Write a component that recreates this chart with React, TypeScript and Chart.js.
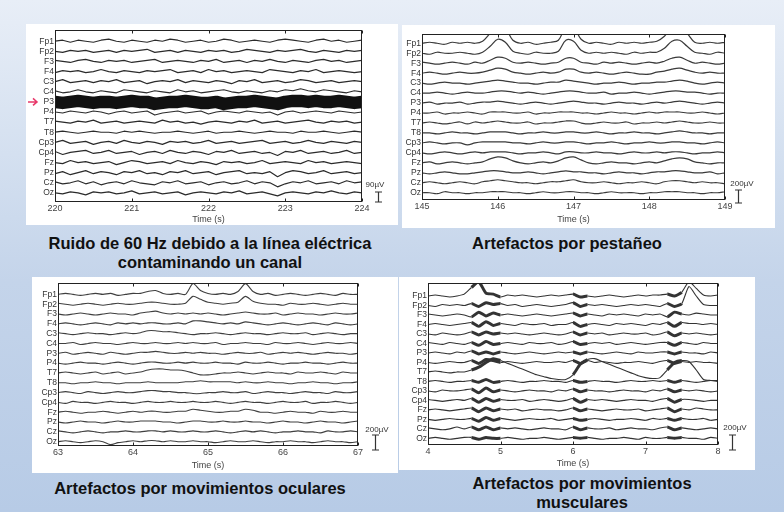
import React, { useEffect, useRef } from "react";
import { Chart, registerables } from "chart.js";
Chart.register(...registerables);

// ---------- data ----------
const CHANNELS = ["Fp1", "Fp2", "F3", "F4", "C3", "C4", "P3", "P4", "T7", "T8", "Cp3", "Cp4", "Fz", "Pz", "Cz", "Oz"];
const SAMPLE_STEP = 0.1; // seconds between samples

const P1_START = 220, P1_END = 224, P1_TICK_STEP = 1;
const P2_START = 145, P2_END = 149, P2_TICK_STEP = 1;
const P3_START = 63, P3_END = 67, P3_TICK_STEP = 1;
const P4_START = 4, P4_END = 8, P4_TICK_STEP = 1;

const P1_SCALE_LABEL = "90µV";
const P2_SCALE_LABEL = "200µV";
const P3_SCALE_LABEL = "200µV";
const P4_SCALE_LABEL = "200µV";

// Panel 1: 60 Hz line noise on P3 (offsets from each channel baseline)
const P1_TRACES = [
  [0,1,-1,1,0,-1,1,2,0,-1,1,0,-1,1,0,2,1,-1,0,1,-1,0,2,1,-1,0,1,0,-1,1,2,1,0,-1,1,2,0,1,-1,0,1], // Fp1
  [0,-1,1,0,1,-1,0,1,-1,1,0,1,2,-1,0,1,-1,1,0,-1,1,0,1,-1,0,2,1,0,-1,1,0,1,2,0,-1,1,0,-1,1,0,1], // Fp2
  [1,0,-1,1,2,0,-1,1,0,1,-1,0,1,2,-1,0,1,0,-1,1,0,2,-1,0,1,-1,1,0,2,0,-1,1,0,-1,1,2,0,1,-1,0,1], // F3
  [-1,1,0,1,-1,0,2,0,-1,1,0,-1,1,0,1,2,-1,0,1,-1,2,0,1,-1,0,1,0,-1,2,1,0,-1,1,0,2,-1,0,1,0,-1,0], // F4
  [0,2,-1,0,1,-1,1,0,2,-1,0,1,-2,0,1,0,2,-1,1,0,-1,1,0,-2,1,0,2,-1,0,1,-1,0,2,1,-1,0,1,-1,0,1,0], // C3
  [1,-1,0,2,0,-1,1,0,-1,2,1,0,-1,1,0,-1,2,0,1,-1,0,1,2,0,-1,1,0,-1,1,0,2,1,3,1,0,2,1,0,-1,1,0], // C4
  [0,-1,0,1,0,-1,0,0,-1,0,1,0,0,-2,-1,0,0,1,0,-1,-1,0,-2,-1,0,0,1,0,-1,-2,0,1,1,0,1,0,0,1,0,-1,0], // P3
  [0,-1,1,0,-1,1,0,-2,0,1,-1,0,1,-3,-1,0,1,-1,0,1,-2,0,1,0,-1,1,0,-1,0,-3,0,1,-1,0,1,0,-1,1,0,-1,0], // P4
  [1,0,-1,1,0,2,-1,0,1,-1,0,1,0,-1,2,0,1,-1,0,-2,0,1,0,-1,1,0,2,-1,0,1,-1,0,1,2,0,-1,1,0,1,-1,0], // T7
  [0,1,0,-1,0,1,0,0,-1,1,0,1,0,-1,0,0,1,0,-1,0,1,-1,0,0,1,0,-1,0,1,0,0,-1,1,0,0,1,0,-1,0,1,0], // T8
  [0,2,-1,0,1,-2,0,1,-1,2,0,-1,1,0,-2,1,0,1,-1,0,2,-1,0,1,-1,0,1,2,-1,0,1,-1,0,2,0,-1,1,0,-1,1,0], // Cp3
  [1,-2,0,1,2,-1,0,2,-1,0,1,-2,0,1,-1,2,0,-1,1,0,-2,1,0,2,-1,0,1,-1,0,-3,1,0,2,-1,0,1,-1,0,2,-1,0], // Cp4
  [0,-1,2,0,1,-1,0,1,-2,0,2,1,-1,0,1,-1,2,0,-1,1,0,-2,1,0,1,-1,0,2,-1,0,1,0,-1,2,0,1,-1,0,1,0,-1], // Fz
  [-1,1,-2,0,2,-1,1,0,-2,1,0,2,-1,0,-2,1,0,2,-1,0,1,-2,0,1,2,-1,0,-1,1,-4,0,2,1,-1,0,2,-1,0,1,-1,0], // Pz
  [1,-1,0,2,-1,1,-2,0,1,-1,2,0,-1,-2,1,0,2,-1,0,1,-2,0,1,-1,0,2,-1,1,0,-4,-1,1,0,2,-1,0,1,-1,2,0,1], // Cz
  [0,-1,1,0,-2,1,0,1,-1,0,2,-1,0,1,-1,0,1,-2,0,1,0,-1,1,0,2,-1,0,1,-1,-3,0,1,0,-1,1,0,2,0,-1,1,0], // Oz
];

// Panel 2: blink artefacts
const P2_TRACES = [
  [0,1,0,-1,1,0,1,0,2,10,18,15,3,0,1,-1,0,1,3,16,16,4,0,1,0,-1,1,0,1,0,1,2,7,16,17,10,1,0,1,0,1], // Fp1
  [0,-1,1,0,0,1,0,-1,1,7,14,11,2,0,-1,1,0,0,2,13,12,3,0,1,0,1,0,-1,1,0,1,1,5,12,13,7,1,0,-1,1,0], // Fp2
  [1,0,-1,0,1,0,-1,1,0,3,6,5,1,0,1,0,-1,0,1,5,5,1,0,-1,1,0,1,0,-1,0,1,0,2,5,6,3,0,1,0,-1,0], // F3
  [0,1,0,-1,0,1,0,0,1,3,5,4,1,0,-1,0,1,0,1,4,4,1,0,1,0,-1,0,1,0,-1,-1,1,2,4,5,3,1,0,1,0,0], // F4
  [0,-1,0,1,0,0,-1,0,1,2,3,2,1,0,0,-1,0,1,1,3,2,1,0,-1,0,0,1,0,-1,0,0,1,1,2,3,2,0,-1,0,1,0], // C3
  [0,0,1,0,-1,0,1,0,0,1,2,2,1,0,1,0,-1,0,1,2,2,1,0,0,1,-1,0,0,1,0,-1,0,1,2,2,1,1,0,-1,0,0], // C4
  [0,1,-1,0,0,1,-1,0,1,1,2,1,0,-1,0,1,0,-1,0,1,2,1,0,0,-1,0,1,0,0,-1,0,1,0,1,2,1,0,-1,0,1,0], // P3
  [0,0,1,-1,0,0,1,0,-1,1,1,1,0,0,1,-1,0,0,1,1,1,0,0,-1,0,1,0,0,-1,0,1,0,1,1,1,0,0,1,0,-1,0], // P4
  [0,1,0,-1,0,1,-1,1,0,1,2,1,0,0,1,-1,0,0,1,2,2,0,-1,0,1,0,0,1,-1,0,0,1,0,1,2,1,0,0,1,0,0], // T7
  [0,0,-1,0,1,0,0,-1,0,1,1,1,0,-1,0,0,1,0,0,1,1,0,0,1,0,-1,0,0,1,0,0,-1,0,1,2,1,0,0,-1,0,0], // T8
  [0,1,0,-1,0,0,-2,0,1,1,1,1,0,0,-1,0,1,0,0,1,1,0,-1,0,0,1,0,-1,0,0,1,0,0,1,1,0,0,-1,0,1,0], // Cp3
  [0,-1,0,1,0,-1,0,1,0,1,1,1,0,-1,0,0,1,0,-1,1,1,0,0,1,0,0,-1,0,1,0,0,1,0,1,1,0,-1,0,0,1,0], // Cp4
  [0,1,-1,0,1,0,-1,0,1,4,6,5,2,0,-1,0,1,0,2,5,6,3,0,-1,0,1,0,0,-1,0,1,0,2,4,5,4,1,0,-1,0,0], // Fz
  [0,-1,0,1,0,-1,-1,0,1,2,2,1,0,0,1,0,-1,0,1,2,1,1,0,0,-1,0,1,0,0,-1,0,1,1,2,2,1,0,0,1,-1,0], // Pz
  [0,1,0,-1,0,1,0,-1,1,2,3,2,1,0,0,-1,0,1,1,2,3,1,0,0,1,0,-1,0,0,1,0,-1,1,2,2,1,0,1,0,0,-1], // Cz
  [0,0,-1,1,0,0,-1,0,0,1,1,1,0,0,-1,0,1,0,0,1,1,0,0,-1,0,1,0,0,0,-1,0,0,1,1,1,0,0,-1,0,0,1], // Oz
];

// Panel 3: eye movement artefacts
const P3_TRACES = [
  [0,1,0,-1,0,1,0,1,-1,0,1,1,3,4,1,0,1,0,11,4,1,0,1,0,3,11,3,0,1,-1,0,1,0,-1,0,1,0,-1,1,0,0], // Fp1
  [1,0,-1,0,1,0,-1,0,1,0,0,1,2,2,1,0,0,1,8,5,2,1,0,1,2,8,3,1,0,0,-1,1,0,0,1,0,-1,0,1,0,0], // Fp2
  [0,-1,0,1,0,-1,0,1,0,0,-1,1,2,3,1,0,1,0,1,0,1,0,-1,0,1,2,1,0,0,1,-1,0,1,0,0,-1,0,1,0,0,1], // F3
  [0,1,0,-1,0,1,0,-1,1,0,1,0,1,1,0,0,1,0,3,3,2,1,0,1,0,2,1,0,-1,0,1,0,-1,0,1,0,-1,1,0,-1,0], // F4
  [1,0,-1,0,1,0,0,-1,0,1,0,1,3,3,2,2,1,0,-1,0,0,1,0,-1,0,1,0,0,-1,0,1,0,0,1,-1,0,1,0,-1,0,0], // C3
  [0,0,1,-1,0,1,0,0,-1,0,1,0,0,1,0,0,1,0,1,0,0,1,-1,0,0,1,0,0,-1,1,0,0,1,0,-1,0,1,0,0,1,0], // C4
  [0,1,-1,0,1,0,-1,1,0,-1,0,1,1,2,1,0,0,1,0,1,0,0,-1,0,1,0,0,1,-1,0,1,0,1,0,-1,0,1,0,0,-1,0], // P3
  [0,-1,0,1,0,0,-1,0,1,0,-1,0,1,1,0,0,1,0,1,0,0,1,0,0,-1,1,0,0,1,0,-1,0,0,1,0,0,-1,0,1,0,0], // P4
  [0,1,0,-1,0,1,-1,0,1,-1,0,1,3,4,4,3,3,2,0,-2,-2,-1,0,0,1,0,-1,0,1,0,0,-1,1,0,0,1,0,-1,1,0,0], // T7
  [0,0,-1,0,0,1,0,0,-1,0,0,0,1,0,0,0,0,1,1,2,1,1,1,1,0,1,0,0,1,0,0,-1,0,0,1,0,0,-1,0,0,1], // T8
  [0,1,0,-1,1,0,-1,0,1,0,0,1,2,2,1,1,0,0,-1,-1,0,0,1,0,0,1,-1,0,1,0,0,-1,0,1,0,0,-1,1,0,0,1], // Cp3
  [0,-1,1,0,0,-1,0,1,0,0,-1,0,1,0,0,1,0,0,1,0,0,1,0,-1,0,1,0,0,-1,0,1,0,0,1,-1,0,0,1,0,-1,0], // Cp4
  [0,1,0,-1,0,0,1,0,-1,0,1,0,1,1,0,0,1,1,3,2,1,0,0,1,1,3,2,0,0,-1,0,1,0,0,-1,1,0,0,1,0,0], // Fz
  [0,-1,0,1,0,0,-1,0,1,0,0,1,1,1,0,0,-1,0,1,1,0,0,1,0,0,1,0,0,-1,0,1,0,0,-1,0,1,0,0,-1,0,1], // Pz
  [1,0,-1,0,1,0,-1,0,0,1,0,0,1,1,0,1,0,0,1,0,0,1,0,-1,0,1,0,1,0,-1,0,0,1,0,0,-1,1,0,0,1,0], // Cz
  [0,1,0,-1,0,1,0,-3,-1,0,1,0,1,1,0,1,0,0,1,0,0,-1,0,1,0,0,1,0,-1,0,0,1,0,0,-1,0,1,0,0,-1,0], // Oz
];

// Panel 4: muscle artefacts
const P4_TRACES = [
  [0,1,0,-1,0,2,9,15,3,2,-1,1,0,1,0,-1,0,1,0,1,2,-1,0,-1,0,1,0,-1,0,1,0,1,1,2,0,4,15,8,1,0,1], // Fp1
  [0,-1,1,0,1,0,2,-1,3,1,2,0,1,-1,0,1,0,-1,0,1,3,-1,1,0,1,0,-1,0,1,0,1,0,-1,2,-1,2,20,10,1,0,0], // Fp2
  [1,0,-1,0,1,0,-2,3,-1,2,0,1,0,-1,0,1,0,-1,0,1,2,-1,1,0,-1,1,0,1,0,-1,1,0,1,-2,3,1,0,2,1,0,0], // F3
  [0,1,0,-1,0,1,2,-2,3,-1,1,0,-1,1,0,0,1,-1,0,0,2,-2,0,1,0,-1,1,0,1,0,-1,1,0,2,-2,2,1,1,0,1,0], // F4
  [0,-1,1,0,-1,0,2,-1,2,0,1,0,1,0,-1,0,1,0,-1,0,2,-1,1,0,1,-1,0,1,0,0,1,-1,0,2,-2,1,0,1,0,-1,0], // C3
  [1,0,-1,1,0,-1,1,-2,2,-1,0,1,0,-1,1,0,0,1,-1,0,2,-1,0,1,0,1,-1,0,1,0,-1,0,1,1,-2,1,0,-1,1,0,0], // C4
  [0,1,0,-1,1,0,2,-1,1,-1,1,0,-1,0,1,0,-1,0,1,0,1,-1,1,0,-1,0,1,0,-1,1,0,0,1,1,-1,1,0,0,-1,1,0], // P3
  [0,-1,0,1,0,0,2,-1,3,2,0,1,0,-1,0,1,0,0,1,0,2,-1,2,0,1,0,-1,0,0,1,0,-1,1,2,-1,1,0,1,0,0,-1], // P4
  [0,1,0,-1,0,0,2,5,10,14,12,9,6,3,0,-3,-5,-7,-8,-8,-3,8,13,14,11,8,5,2,-1,-4,-6,-7,-6,2,10,12,11,2,-8,-9,-9], // T7
  [0,1,0,-1,0,0,1,-1,2,-1,0,1,0,-1,0,0,1,0,0,-1,1,-1,0,1,0,0,-1,0,1,0,0,1,0,1,-1,1,0,-1,0,1,0], // T8
  [0,-1,1,0,0,1,2,-2,3,-1,1,0,-1,0,1,0,0,-1,1,0,2,-1,1,0,0,-1,0,1,0,0,-1,1,0,2,-1,1,0,1,0,-1,0], // Cp3
  [1,0,-1,0,1,0,2,-2,2,-1,1,0,0,1,-1,0,1,0,-1,0,2,-2,1,0,1,0,-1,0,1,0,0,-1,1,2,-2,1,1,0,-1,0,0], // Cp4
  [0,1,0,-1,0,1,2,-2,2,-1,1,0,1,-1,0,1,0,0,-1,0,2,-1,1,0,-1,0,1,0,0,1,-1,0,1,2,-2,1,0,2,1,0,0], // Fz
  [0,-1,0,1,0,0,1,-2,2,-1,1,0,-1,0,1,0,0,1,-1,0,1,-1,0,1,0,-1,0,0,1,0,-1,1,0,1,-1,1,0,0,1,-1,0], // Pz
  [1,0,-1,0,2,0,2,-1,2,-1,1,0,1,0,-1,0,1,0,0,-1,2,-1,1,0,0,1,-1,0,1,0,0,-1,1,2,-1,1,0,-1,0,1,0], // Cz
  [0,1,0,-1,0,1,1,-1,1,0,0,1,0,-1,0,0,1,0,-1,0,1,0,1,0,-1,0,0,1,0,-1,1,0,0,1,0,1,0,0,-1,1,0], // Oz
];
// time windows (s) of the muscle bursts in panel 4
const P4_BURSTS = [[4.55, 4.95], [5.95, 6.15], [7.25, 7.5]];

// ---------- layout / style ----------
type Rect = { l: number; t: number; r: number; b: number };
type PanelCfg = {
  panel: Rect; box: Rect; yMin: number; yMax: number;
  start: number; end: number; tickStep: number; traces: number[][];
  scaleLabel: string; textDx: number; textDy: number; barDx: number; barTop: number; barBottom: number;
  titlePad: number; lineColor: string; lineWidth: number; tension: number;
  thickChannel?: number; thickWidth?: number; arrowChannel?: number;
  bursts?: number[][]; burstWidth?: number;
};

const PANELS: PanelCfg[] = [
  {
    panel: { l: 26, t: 24, r: 398, b: 225 }, box: { l: 55, t: 30, r: 362, b: 202 }, yMin: 1, yMax: 171,
    start: P1_START, end: P1_END, tickStep: P1_TICK_STEP, traces: P1_TRACES,
    scaleLabel: P1_SCALE_LABEL, textDx: 13, textDy: -17, barDx: 16, barTop: -10, barBottom: 0,
    titlePad: 0, lineColor: "#2b2b2b", lineWidth: 1.2, tension: 0, thickChannel: 6, thickWidth: 12.5, arrowChannel: 6,
  },
  {
    panel: { l: 402, t: 25, r: 775, b: 228 }, box: { l: 422, t: 34, r: 725, b: 200 }, yMin: 2.7, yMax: 169.3,
    start: P2_START, end: P2_END, tickStep: P2_TICK_STEP, traces: P2_TRACES,
    scaleLabel: P2_SCALE_LABEL, textDx: 17, textDy: -16, barDx: 13, barTop: -10, barBottom: 3,
    titlePad: 3, lineColor: "#3a3a3a", lineWidth: 1.2, tension: 0.35,
  },
  {
    panel: { l: 32, t: 277, r: 398, b: 473 }, box: { l: 58, t: 283, r: 358, b: 446 }, yMin: 5.6, yMax: 171.5,
    start: P3_START, end: P3_END, tickStep: P3_TICK_STEP, traces: P3_TRACES,
    scaleLabel: P3_SCALE_LABEL, textDx: 19, textDy: -16, barDx: 17, barTop: -11, barBottom: 4,
    titlePad: 2.5, lineColor: "#3f3f3f", lineWidth: 1.1, tension: 0.25,
  },
  {
    panel: { l: 399, t: 277, r: 755, b: 470 }, box: { l: 428, t: 282, r: 718, b: 445 }, yMin: 3, yMax: 173.6,
    start: P4_START, end: P4_END, tickStep: P4_TICK_STEP, traces: P4_TRACES,
    scaleLabel: P4_SCALE_LABEL, textDx: 17, textDy: -17, barDx: 14, barTop: -10, barBottom: 5,
    titlePad: 0.6, lineColor: "#333333", lineWidth: 1.1, tension: 0.2, bursts: P4_BURSTS, burstWidth: 3,
  },
];

const AXIS_FONT = "'Liberation Sans', Arial, sans-serif";

const decorPlugin = {
  id: "eegDecor",
  afterDatasetsDraw(chart: any, _args: any, opts: any) {
    const cfg: PanelCfg = opts.cfg;
    const { ctx, chartArea: a, scales } = chart;
    ctx.save();
    ctx.strokeStyle = "#222";
    ctx.lineWidth = 1;
    const L = Math.round(a.left) + 0.5, T = Math.round(a.top) + 0.5;
    const R = Math.round(a.right) - 0.5, B = Math.round(a.bottom) - 0.5;
    ctx.strokeRect(L, T, R - L, B - T);
    ctx.beginPath();
    scales.x.ticks.forEach((t: any) => {
      const x = Math.round(scales.x.getPixelForValue(t.value)) + 0.5;
      ctx.moveTo(x, B); ctx.lineTo(x, B - 3);
      ctx.moveTo(x, T); ctx.lineTo(x, T + 3);
    });
    ctx.stroke();
    // amplitude scale bar
    ctx.fillStyle = "#333";
    ctx.font = `8px ${AXIS_FONT}`;
    ctx.textAlign = "center";
    ctx.textBaseline = "middle";
    ctx.fillText(cfg.scaleLabel, a.right + cfg.textDx, a.bottom + cfg.textDy);
    const bx = Math.round(a.right + cfg.barDx) + 0.5;
    const y1 = a.bottom + cfg.barTop, y2 = a.bottom + cfg.barBottom;
    ctx.strokeStyle = "#333";
    ctx.lineWidth = 1.2;
    ctx.beginPath();
    ctx.moveTo(bx, y1); ctx.lineTo(bx, y2);
    ctx.moveTo(bx - 3.5, y1); ctx.lineTo(bx + 3.5, y1);
    ctx.moveTo(bx - 3.5, y2); ctx.lineTo(bx + 3.5, y2);
    ctx.stroke();
    // red arrow for the contaminated channel
    if (cfg.arrowChannel !== undefined) {
      const y = scales.y.getPixelForValue((CHANNELS.length - cfg.arrowChannel) * 10);
      ctx.strokeStyle = "#e8386a";
      ctx.lineWidth = 1.5;
      ctx.beginPath();
      ctx.moveTo(2, y); ctx.lineTo(11, y);
      ctx.moveTo(7, y - 3.5); ctx.lineTo(11, y); ctx.lineTo(7, y + 3.5);
      ctx.stroke();
    }
    ctx.restore();
  },
};

function inBurst(x: number, bursts?: number[][]) {
  if (!bursts) return false;
  return bursts.some(([s, e]) => x >= s && x < e);
}

function EEGPanel({ cfg }: { cfg: PanelCfg }) {
  const ref = useRef<HTMLCanvasElement>(null);
  const w = cfg.panel.r - cfg.panel.l;
  const h = cfg.panel.b - cfg.panel.t;
  useEffect(() => {
    const n = CHANNELS.length;
    const datasets = cfg.traces.map((vals, ci) => ({
      label: CHANNELS[ci],
      data: vals.map((v, i) => ({ x: cfg.start + i * SAMPLE_STEP, y: (n - ci) * 10 + v })),
      borderColor: ci === cfg.thickChannel ? "#111" : cfg.lineColor,
      borderWidth: ci === cfg.thickChannel ? cfg.thickWidth : cfg.lineWidth,
      pointRadius: 0,
      tension: cfg.tension,
      clip: 0,
      borderJoinStyle: "round" as const,
      segment: cfg.bursts
        ? { borderWidth: (c: any) => (inBurst(c.p0.parsed.x, cfg.bursts) ? cfg.burstWidth : undefined) }
        : undefined,
    }));
    const chart = new Chart(ref.current as HTMLCanvasElement, {
      type: "line",
      data: { datasets },
      plugins: [decorPlugin],
      options: {
        animation: false,
        responsive: false,
        devicePixelRatio: 1,
        events: [],
        layout: {
          padding: { top: cfg.box.t - cfg.panel.t, right: cfg.panel.r - cfg.box.r, left: 0, bottom: 0 },
        },
        plugins: {
          legend: { display: false },
          tooltip: { enabled: false },
          eegDecor: { cfg },
        } as any,
        scales: {
          x: {
            type: "linear",
            min: cfg.start,
            max: cfg.end,
            grid: { display: false, drawTicks: false },
            border: { display: false },
            ticks: { stepSize: cfg.tickStep, autoSkip: false, maxRotation: 0, padding: 1, color: "#444", font: { size: 9, family: AXIS_FONT } },
            title: { display: true, text: "Time (s)", color: "#444", font: { size: 9, family: AXIS_FONT }, padding: { top: 0, bottom: cfg.titlePad } },
            afterFit: (s: any) => { s.height = cfg.panel.b - cfg.box.b; },
          },
          y: {
            type: "linear",
            min: cfg.yMin,
            max: cfg.yMax,
            grid: { display: false, drawTicks: false },
            border: { display: false },
            afterBuildTicks: (s: any) => { s.ticks = CHANNELS.map((_, i) => ({ value: (n - i) * 10 })); },
            ticks: {
              autoSkip: false,
              padding: 1,
              color: "#333",
              font: { size: 8.5, family: AXIS_FONT },
              callback: (v: any) => CHANNELS[n - Math.round(Number(v) / 10)] ?? "",
            },
            afterFit: (s: any) => { s.width = cfg.box.l - cfg.panel.l; },
          },
        },
      } as any,
    });
    return () => chart.destroy();
  }, []);
  return (
    <div style={{ position: "absolute", left: cfg.panel.l, top: cfg.panel.t, width: w, height: h, background: "#ffffff" }}>
      <canvas ref={ref} width={w} height={h} style={{ display: "block", width: w, height: h }} />
    </div>
  );
}

const CAPTIONS = [
  { lines: ["Ruido de 60 Hz debido a la línea eléctrica", "contaminando un canal"], cx: 210, top: 234 },
  { lines: ["Artefactos por pestañeo"], cx: 567, top: 234 },
  { lines: ["Artefactos por movimientos oculares"], cx: 200, top: 479 },
  { lines: ["Artefactos por movimientos", "musculares"], cx: 582, top: 474 },
];

export default function App() {
  return (
    <div
      style={{
        position: "fixed", left: 0, top: 0, width: 784, height: 512, overflow: "hidden",
        background: "linear-gradient(180deg, #e8eef7 0%, #d4e0f0 30%, #c4d4ea 55%, #b7cbe6 100%)",
      }}
    >
      {PANELS.map((p, i) => <EEGPanel key={i} cfg={p} />)}
      {CAPTIONS.map((c, i) => (
        <div
          key={"c" + i}
          style={{
            position: "absolute", left: c.cx - 200, top: c.top, width: 400, textAlign: "center",
            fontFamily: "'Liberation Sans', Arial, sans-serif", fontWeight: "bold", fontSize: 16.5,
            lineHeight: "19px", color: "#111", whiteSpace: "nowrap",
          }}
        >
          {c.lines.map((l, j) => <div key={j}>{l}</div>)}
        </div>
      ))}
    </div>
  );
}
